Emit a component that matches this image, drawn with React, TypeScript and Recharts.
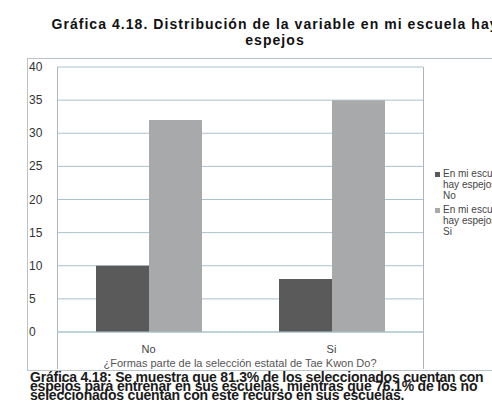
import { BarChart, Bar, XAxis, YAxis, CartesianGrid, Legend } from "recharts";

const categories = ["No", "Si"];
const hayEspejosNo = [10, 8];
const hayEspejosSi = [32, 35];
const yTicks = [0, 5, 10, 15, 20, 25, 30, 35, 40];
const seriesNames = ["En mi escuela hay espejos No", "En mi escuela hay espejos Si"];
const legendLines = [
  ["En mi escuela", "hay espejos", "No"],
  ["En mi escuela", "hay espejos", "Si"],
];
const captionLines = [
  "Gráfica 4.18: Se muestra que 81.3% de los seleccionados cuentan con",
  "espejos para entrenar en sus escuelas, mientras que 76.1% de los no",
  "seleccionados cuentan con este recurso en sus escuelas.",
];

const data = categories.map((c, i) => ({
  cat: c,
  no: hayEspejosNo[i],
  si: hayEspejosSi[i],
}));

const DARK = "#5a5a5a";
const LIGHT = "#a7a9ab";
const GRID = "#a9c3cc";
const FONT = "'Liberation Sans', Arial, sans-serif";

const YTick = (props: any) => (
  <text x={29} y={props.y} dy={4} fontSize={12} fill="#333" fontFamily={FONT}>
    {props.payload.value}
  </text>
);

const LegendBox = () => (
  <div style={{ fontFamily: FONT, fontSize: 10, lineHeight: "11px", color: "#444", textAlign: "left" }}>
    {legendLines.map((lines, i) => (
      <div key={i} style={{ display: "flex", marginBottom: 3 }}>
        <span
          style={{
            width: 5,
            height: 5,
            background: i === 0 ? DARK : LIGHT,
            marginTop: 4,
            marginRight: 3,
            flexShrink: 0,
          }}
        />
        <div>
          {lines.map((l) => (
            <div key={l} style={{ whiteSpace: "nowrap" }}>{l}</div>
          ))}
        </div>
      </div>
    ))}
  </div>
);

export default function App() {
  return (
    <div
      style={{
        position: "absolute",
        left: 0,
        top: 0,
        width: 492,
        height: 403,
        overflow: "hidden",
        background: "#fff",
        fontFamily: FONT,
      }}
    >
      <div
        style={{
          position: "absolute",
          left: 30,
          top: 16,
          width: 490,
          textAlign: "center",
          fontWeight: "bold",
          fontSize: 14,
          letterSpacing: 1.05,
          lineHeight: "16px",
          color: "#111",
        }}
      >
        Gráfica 4.18. Distribución de la variable en mi escuela hay espejos
      </div>
      {/* outer chart frame */}
      <div
        style={{
          position: "absolute",
          left: 27,
          top: 58,
          width: 480,
          height: 311,
          border: "1px solid #b8c4c8",
        }}
      />
      {/* plot frame */}
      <div
        style={{
          position: "absolute",
          left: 57,
          top: 67,
          width: 365,
          height: 302,
          borderLeft: "1px solid #b0b6b8",
          borderRight: "1px solid #b0b6b8",
        }}
      />
      <div style={{ position: "absolute", left: 0, top: 0 }}>
        <BarChart
          width={492}
          height={403}
          data={data}
          margin={{ top: 67, right: 69, bottom: 31, left: 27 }}
          barGap={0}
          barCategoryGap={39}
        >
          <CartesianGrid vertical={false} stroke={GRID} />
          <XAxis
            dataKey="cat"
            height={40}
            tickLine={false}
            axisLine={{ stroke: GRID }}
            tickMargin={7}
            tick={{ fontSize: 11, fill: "#444", fontFamily: FONT }}
            label={{
              value: "¿Formas parte de la selección estatal de Tae Kwon Do?",
              position: "insideBottom",
              offset: 5,
              fontSize: 11,
              fill: "#555",
              fontFamily: FONT,
            }}
          />
          <YAxis
            width={30}
            domain={[0, 40]}
            ticks={yTicks}
            tickLine={false}
            axisLine={false}
            tick={<YTick />}
          />
          <Legend
            layout="vertical"
            align="center"
            verticalAlign="middle"
            content={<LegendBox />}
            wrapperStyle={{ left: 435, top: 168, width: 100 }}
          />
          <Bar dataKey="no" name={seriesNames[0]} fill={DARK} isAnimationActive={false} />
          <Bar dataKey="si" name={seriesNames[1]} fill={LIGHT} isAnimationActive={false} />
        </BarChart>
      </div>
      <div
        style={{
          position: "absolute",
          left: 30,
          top: 373,
          fontSize: 14,
          fontWeight: "bold",
          lineHeight: "9px",
          color: "#1a1a1a",
          letterSpacing: -0.2,
          whiteSpace: "nowrap",
        }}
      >
        {captionLines.map((l) => (
          <div key={l}>{l}</div>
        ))}
      </div>
    </div>
  );
}
